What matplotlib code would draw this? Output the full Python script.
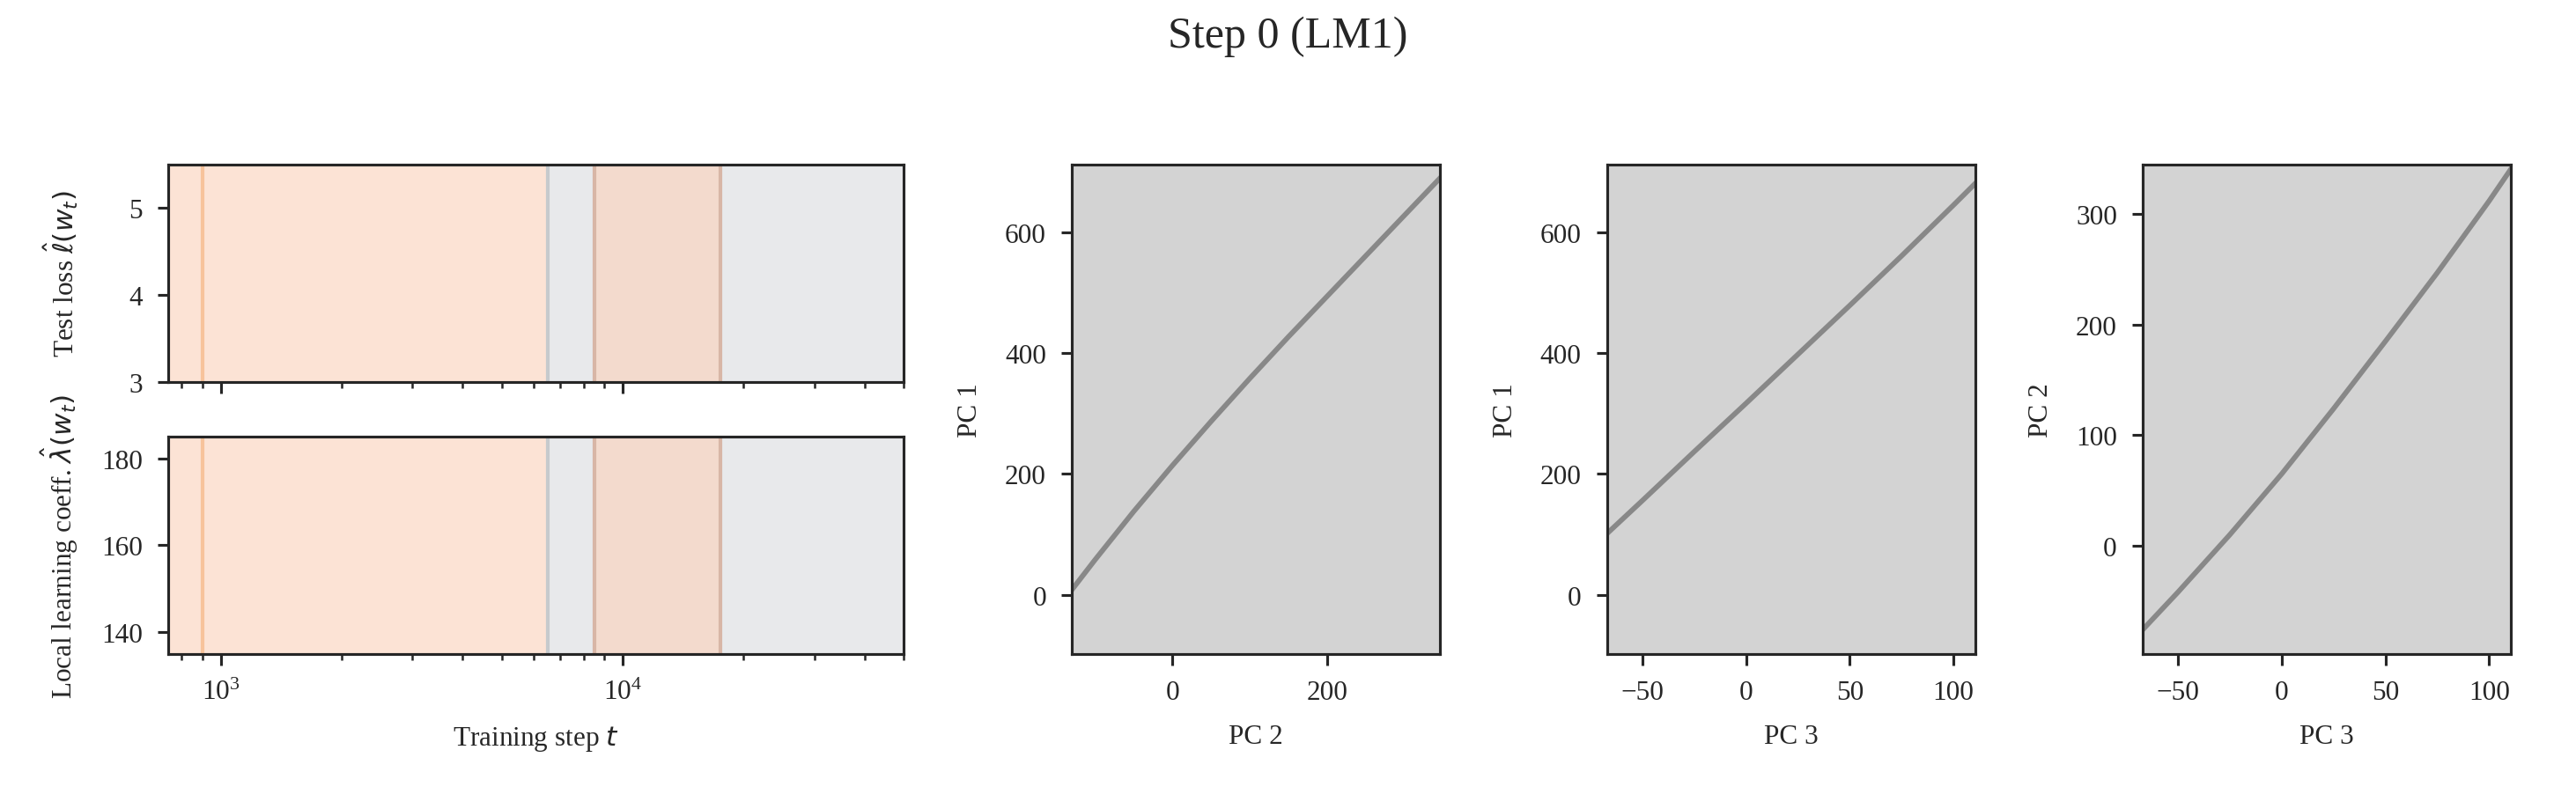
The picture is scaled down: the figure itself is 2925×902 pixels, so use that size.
import matplotlib
matplotlib.use('Agg')
import matplotlib.pyplot as plt
from matplotlib.ticker import MultipleLocator

# developmental stage boundaries (training steps) for LM1..LM5
stage_bounds = [600, 900, 6500, 8500, 17500, 60000]
stage_colors = ['#fce3d5', '#fce3d5', '#e8e9eb', '#f3dacd', '#e8e9eb']
edge_steps = [900, 6500, 8500, 17500]
edge_colors = ['#f7c39b', '#c6cacd', '#d8b6a6', '#d8b6a6']

# essential dynamics trajectory
traj_pc2_a = [-135, -100, -50, 0, 50, 100, 150, 200, 250, 300, 350]
traj_pc1_a = [0, 58, 138, 214, 287, 358, 427, 494, 561, 628, 695]

traj_pc3_b = [-70, -50, -25, 0, 25, 50, 75, 100, 112]
traj_pc1_b = [92, 156, 237, 317, 398, 479, 561, 645, 686]

traj_pc3_c = [-70, -50, -25, 0, 25, 50, 75, 100, 112]
traj_pc2_c = [-82, -42, 10, 65, 124, 185, 247, 312, 345]

text_col = '#262626'
plt.rcParams['font.family'] = ['Liberation Serif', 'DejaVu Serif']
plt.rcParams['font.size'] = 15
plt.rcParams['text.color'] = text_col
plt.rcParams['axes.labelcolor'] = text_col
plt.rcParams['axes.edgecolor'] = text_col
plt.rcParams['axes.linewidth'] = 1.5
plt.rcParams['axes.labelpad'] = 10
plt.rcParams['xtick.color'] = text_col
plt.rcParams['ytick.color'] = text_col
plt.rcParams['xtick.major.size'] = 6
plt.rcParams['ytick.major.size'] = 6
plt.rcParams['xtick.minor.size'] = 3.5
plt.rcParams['xtick.major.width'] = 1.5
plt.rcParams['ytick.major.width'] = 1.5
plt.rcParams['xtick.minor.width'] = 1.2
plt.rcParams['xtick.major.pad'] = 8
plt.rcParams['xtick.minor.pad'] = 8
plt.rcParams['ytick.major.pad'] = 8
plt.rcParams['axes.unicode_minus'] = True

fig = plt.figure(figsize=(19.5, 6.02), dpi=150)

ax_loss = fig.add_axes([0.0653, 0.5183, 0.2855, 0.2735])
ax_llc = fig.add_axes([0.0653, 0.1761, 0.2855, 0.2735], sharex=ax_loss)

for ax in (ax_loss, ax_llc):
    ax.set_xscale('log')
    for i in range(len(stage_colors)):
        ax.axvspan(stage_bounds[i], stage_bounds[i + 1], color=stage_colors[i], lw=0, zorder=0)
    for s, c in zip(edge_steps, edge_colors):
        ax.axvline(s, color=c, lw=2, zorder=1)
    ax.set_xlim(740, 50000)

ax_loss.set_ylim(3, 5.5)
ax_loss.yaxis.set_major_locator(MultipleLocator(1))
ax_loss.set_ylabel(r'Test loss $\hat{\ell}(w_t)$')
ax_loss.yaxis.set_label_coords(-0.12, 0.5)
ax_loss.tick_params(labelbottom=False)

ax_llc.set_ylim(135, 185)
ax_llc.yaxis.set_major_locator(MultipleLocator(20))
ax_llc.set_ylabel(r'Local learning coeff. $\hat{\lambda}(w_t)$')
ax_llc.yaxis.set_label_coords(-0.12, 0.5)
ax_llc.set_xlabel(r'Training step $t$')

pc_axes = []
for left in (0.4161, 0.6239, 0.8318):
    ax = fig.add_axes([left, 0.1761, 0.1429, 0.6157])
    ax.set_facecolor('#d3d3d3')
    ax.yaxis.labelpad = 12
    pc_axes.append(ax)

ax = pc_axes[0]
ax.plot(traj_pc2_a, traj_pc1_a, color='#888888', lw=2.8)
ax.set_xlim(-130, 346)
ax.set_ylim(-98, 712)
ax.xaxis.set_major_locator(MultipleLocator(200))
ax.yaxis.set_major_locator(MultipleLocator(200))
ax.set_xlabel('PC 2')
ax.set_ylabel('PC 1')

ax = pc_axes[1]
ax.plot(traj_pc3_b, traj_pc1_b, color='#888888', lw=2.8)
ax.set_xlim(-67, 110.5)
ax.set_ylim(-98, 712)
ax.xaxis.set_major_locator(MultipleLocator(50))
ax.yaxis.set_major_locator(MultipleLocator(200))
ax.set_xlabel('PC 3')
ax.set_ylabel('PC 1')

ax = pc_axes[2]
ax.plot(traj_pc3_c, traj_pc2_c, color='#888888', lw=2.8)
ax.set_xlim(-67, 110.5)
ax.set_ylim(-98, 345)
ax.xaxis.set_major_locator(MultipleLocator(50))
ax.yaxis.set_major_locator(MultipleLocator(100))
ax.set_xlabel('PC 3')
ax.set_ylabel('PC 2')

fig.suptitle('Step 0 (LM1)', fontsize=24, y=0.98)

fig.savefig('out.png', dpi=150)
